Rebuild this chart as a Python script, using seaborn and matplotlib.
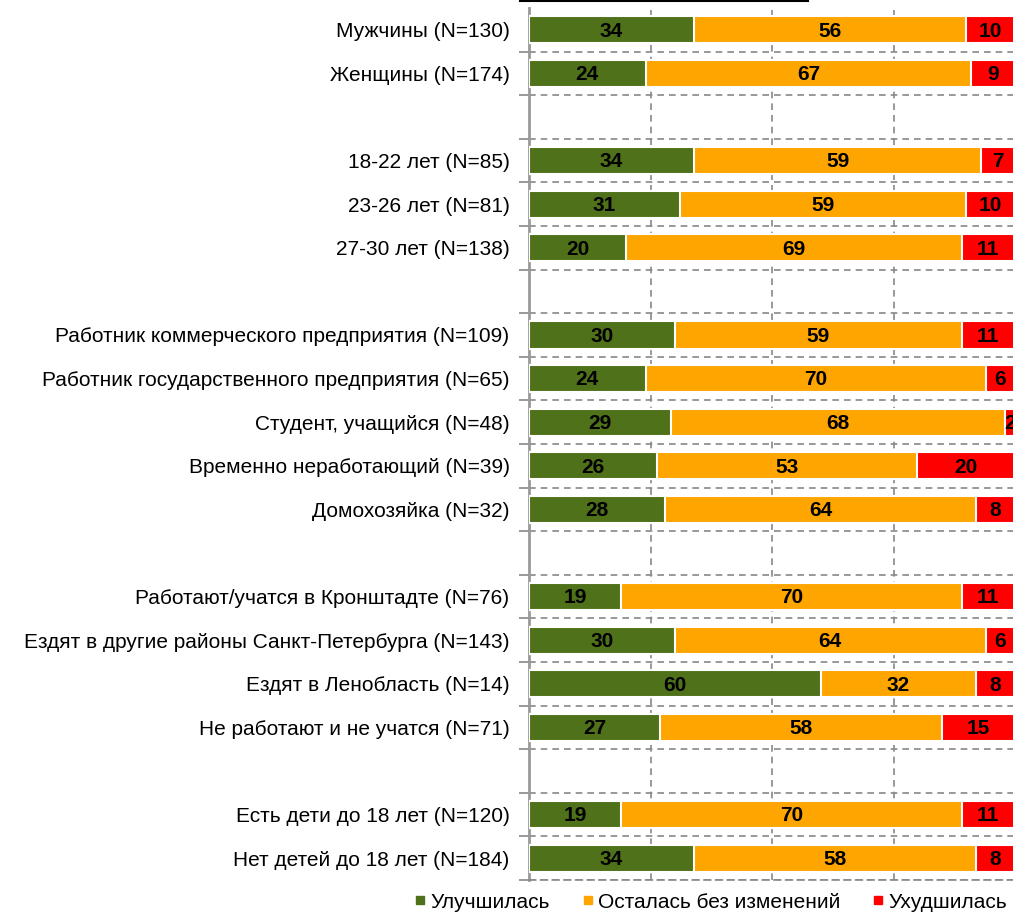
import pandas as pd
import matplotlib.pyplot as plt
from matplotlib.lines import Line2D
import seaborn as sns
import numpy as np

# groups; blank strings are spacer rows
categories = [
    'Мужчины (N=130)', 'Женщины (N=174)', ' ',
    '18-22 лет (N=85)', '23-26 лет (N=81)', '27-30 лет (N=138)', '  ',
    'Работник коммерческого предприятия (N=109)',
    'Работник государственного предприятия (N=65)',
    'Студент, учащийся (N=48)', 'Временно неработающий (N=39)',
    'Домохозяйка (N=32)', '   ',
    'Работают/учатся в Кронштадте (N=76)',
    'Ездят в другие районы Санкт-Петербурга (N=143)',
    'Ездят в Ленобласть (N=14)', 'Не работают и не учатся (N=71)', '    ',
    'Есть дети до 18 лет (N=120)', 'Нет детей до 18 лет (N=184)',
]
better = [34, 24, np.nan, 34, 31, 20, np.nan, 30, 24, 29, 26, 28, np.nan,
          19, 30, 60, 27, np.nan, 19, 34]
same = [56, 67, np.nan, 59, 59, 69, np.nan, 59, 70, 68, 53, 64, np.nan,
        70, 64, 32, 58, np.nan, 70, 58]
worse = [10, 9, np.nan, 7, 10, 11, np.nan, 11, 6, 2, 20, 8, np.nan,
         11, 6, 8, 15, np.nan, 11, 8]
series = ['Улучшилась', 'Осталась без изменений', 'Ухудшилась']
colors = ['#4F7119', '#FFA500', '#FF0000']

df = pd.DataFrame({'cat': categories, series[0]: better,
                   series[1]: same, series[2]: worse})
# 100% stacked: normalise each row to its total
total = df[series].sum(axis=1, min_count=1)
df['c1'] = df[series[0]] / total * 100
df['c2'] = (df[series[0]] + df[series[1]]) / total * 100
df['c3'] = 100 * total / total
dd = df.dropna()

plt.rcParams['font.family'] = ['Liberation Sans', 'DejaVu Sans']
fig = plt.figure(figsize=(10.13, 9.13), dpi=100)
ax = fig.add_axes([529 / 1013, 1 - 880 / 913, 486 / 1013, 872 / 913])

# stacked bars: draw cumulative totals back to front
for col, c in zip(['c3', 'c2', 'c1'], colors[::-1]):
    sns.barplot(data=dd, x=col, y='cat', order=categories, orient='h',
                color=c, width=0.62, edgecolor='white', linewidth=1.5,
                saturation=1, ax=ax, zorder=3)

# value labels in the middle of each segment
for i, cat in enumerate(categories):
    row = df.iloc[i]
    if pd.isna(row[series[0]]):
        continue
    bounds = [0, row['c1'], row['c2'], row['c3']]
    for k, s in enumerate(series):
        ax.text((bounds[k] + bounds[k + 1]) / 2, i + 0.03, f'{row[s]:.0f}',
                ha='center', va='center', fontsize=15, fontweight='bold',
                color='black', zorder=5, clip_on=False)

ax.set_xlim(0, 100)
ax.set_ylim(len(categories) - 0.5, -0.5)
ax.set_xticks([25, 50, 75])
ax.set_xticklabels([])
ax.tick_params(axis='x', length=0)
# row separators (no line above the first row)
ax.set_yticks(np.arange(0.5, len(categories), 1), minor=True)
ax.tick_params(axis='y', which='major', length=0, pad=14, labelsize=15)
ax.tick_params(axis='y', which='minor', length=7, color='#888888', width=1.2)
ax.grid(axis='x', which='major', linestyle=(0, (4, 3)), color='#888888', linewidth=1.2, zorder=0)
ax.grid(axis='y', which='minor', linestyle=(0, (4, 3)), color='#888888', linewidth=1.2, zorder=0)
ax.grid(axis='y', which='major', visible=False)
ax.set_xlabel('')
ax.set_ylabel('')
for side in ['top', 'right']:
    ax.spines[side].set_visible(False)
ax.spines['left'].set_color('#999999')
ax.spines['left'].set_linewidth(2)
ax.spines['bottom'].set_color('#888888')
ax.spines['bottom'].set_linestyle((0, (4, 3)))
ax.spines['bottom'].set_linewidth(1.2)

# underline of the cut-off title
fig.add_artist(Line2D([520 / 1013, 808 / 1013], [1 - 1.5 / 913] * 2,
                      color='black', linewidth=1.5))

handles = [Line2D([], [], marker='s', linestyle='', markersize=6,
                  markerfacecolor=c, markeredgecolor=c) for c in colors]
fig.legend(handles, series, loc='center', ncol=3, frameon=False,
           bbox_to_anchor=(710 / 1013, 1 - 902 / 913), fontsize=15,
           handletextpad=0.15, columnspacing=1.45, handlelength=0.7,
           borderpad=0.1)

plt.savefig('out.png', dpi=100)
